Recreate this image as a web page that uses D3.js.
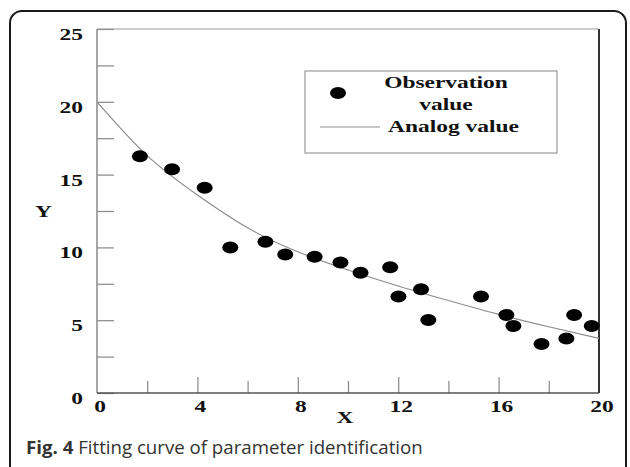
<!DOCTYPE html>
<html lang="en">
<head>
    <meta charset="utf-8">
    <title>Fitting curve</title>
    <script src="https://d3js.org/d3.v7.min.js"></script>
    <style>
        body { margin: 0; background: #fff; }
        svg { display: block; }
    </style>
</head>
<body>
    <div id="chart"></div>
    <script>
        // observed points
        const obsX = [1.71, 2.99, 4.29, 5.31, 6.71, 7.50, 8.67, 9.70, 10.50, 11.68,
                      12.01, 12.91, 13.20, 15.30, 16.31, 16.59, 17.71, 18.70, 19.01, 19.71];
        const obsY = [16.26, 15.36, 14.10, 10.00, 10.39, 9.52, 9.36, 8.97, 8.26, 8.63,
                      6.62, 7.12, 5.01, 6.62, 5.36, 4.60, 3.37, 3.75, 5.36, 4.60];

        // analog (fitted) curve
        const curveX = [0, 2, 4, 6, 8, 10, 12, 14, 16, 18, 20];
        const curveY = [20, 16.3, 13.6, 11.35, 9.7, 8.45, 7.35, 6.35, 5.4, 4.55, 3.75];

        const xTicks = [0, 4, 8, 12, 16, 20];
        const xMinor = [2, 6, 10, 14, 18];
        const yTicks = [0, 5, 10, 15, 20, 25];
        const yMinor = [2.5, 7.5, 12.5, 17.5, 22.5];

        const width = 630, height = 467;
        const plotL = 97, plotR = 599, plotT = 29, plotB = 393;
        const stretch = 1.38;   // the original picture is stretched sideways
        const serif = '"Liberation Serif", "Times New Roman", serif';

        const svg = d3.select('#chart').append('svg')
            .attr('width', width)
            .attr('height', height);

        // outer rounded frame (bottom runs off the picture)
        svg.append('rect')
            .attr('x', 10).attr('y', 11)
            .attr('width', 616).attr('height', 470)
            .attr('rx', 12)
            .attr('fill', 'none')
            .attr('stroke', '#1a1a1a')
            .attr('stroke-width', 2);

        const x = d3.scaleLinear().domain([0, 20]).range([plotL, plotR]);
        const y = d3.scaleLinear().domain([0, 25]).range([plotB, plotT]);

        // ticks pointing inward
        svg.append('g')
            .attr('transform', `translate(${plotL},0)`)
            .call(d3.axisLeft(y).tickValues(yTicks.concat(yMinor)).tickSize(-17).tickSizeOuter(0).tickFormat(''));
        svg.append('g')
            .attr('transform', `translate(0,${plotB})`)
            .call(d3.axisBottom(x).tickValues(xTicks.slice(1, -1)).tickSize(-16).tickSizeOuter(0).tickFormat(''));
        svg.append('g')
            .attr('transform', `translate(0,${plotB})`)
            .call(d3.axisBottom(x).tickValues(xMinor).tickSize(-12).tickSizeOuter(0).tickFormat(''));
        svg.selectAll('.domain').remove();
        svg.selectAll('.tick line').attr('stroke', '#888').attr('stroke-width', 1.2);

        // plot box
        svg.append('line').attr('x1', plotL).attr('x2', plotR).attr('y1', plotT).attr('y2', plotT)
            .attr('stroke', '#999').attr('stroke-width', 1.2);
        svg.append('line').attr('x1', plotL).attr('x2', plotL).attr('y1', plotT).attr('y2', plotB)
            .attr('stroke', '#8a8a8a').attr('stroke-width', 1.5);
        svg.append('line').attr('x1', plotR).attr('x2', plotR).attr('y1', plotT).attr('y2', plotB)
            .attr('stroke', '#333').attr('stroke-width', 2);
        svg.append('line').attr('x1', plotL).attr('x2', plotR).attr('y1', plotB).attr('y2', plotB)
            .attr('stroke', '#555').attr('stroke-width', 1.6);

        function label(g, tx, ty, txt, anchor, size) {
            return g.append('text')
                .attr('transform', `translate(${tx},${ty}) scale(${stretch},1)`)
                .attr('text-anchor', anchor)
                .attr('font-family', serif)
                .attr('font-weight', 'bold')
                .attr('font-size', size || 17)
                .attr('fill', '#111')
                .text(txt);
        }

        const labels = svg.append('g');
        yTicks.forEach(v => label(labels, 83, y(v) + 11, v, 'end'));
        xTicks.forEach(v => label(labels, x(v) + 3, 412, v, 'middle'));
        label(labels, 43.5, 217, 'Y', 'middle');
        label(labels, 345, 423, 'X', 'middle');

        // analog curve
        const curvePts = curveX.map((d, i) => [d, curveY[i]]);
        svg.append('path')
            .datum(curvePts)
            .attr('fill', 'none')
            .attr('stroke', '#8c8c8c')
            .attr('stroke-width', 1.2)
            .attr('d', d3.line()
                .x(d => x(d[0]))
                .y(d => y(d[1]))
                .curve(d3.curveNatural));

        // observation dots
        svg.append('g').selectAll('ellipse')
            .data(obsX.map((d, i) => [d, obsY[i]]))
            .join('ellipse')
            .attr('cx', d => x(d[0]))
            .attr('cy', d => y(d[1]))
            .attr('rx', 8)
            .attr('ry', 6)
            .attr('fill', '#000');

        // legend
        const lg = svg.append('g');
        lg.append('rect')
            .attr('x', 305).attr('y', 71)
            .attr('width', 252).attr('height', 82)
            .attr('fill', '#fff')
            .attr('stroke', '#999')
            .attr('stroke-width', 1.2);
        lg.append('ellipse')
            .attr('cx', 338).attr('cy', 93)
            .attr('rx', 8).attr('ry', 6)
            .attr('fill', '#000');
        lg.append('line')
            .attr('x1', 320).attr('x2', 380)
            .attr('y1', 127).attr('y2', 127)
            .attr('stroke', '#8c8c8c')
            .attr('stroke-width', 1.2);
        label(lg, 446, 88, 'Observation', 'middle');
        label(lg, 446, 110, 'value', 'middle');
        label(lg, 388, 132, 'Analog value', 'start');

        // caption
        const cap = svg.append('text')
            .attr('x', 26).attr('y', 454)
            .attr('font-family', '"Open Sans", "Noto Sans", sans-serif')
            .attr('font-size', 17.5)
            .attr('fill', '#333');
        cap.append('tspan').attr('font-weight', 'bold').text('Fig. 4');
        cap.append('tspan').text(' Fitting curve of parameter identification');
        const w = cap.node().getComputedTextLength();
        const sx = 397 / w;
        cap.attr('x', null).attr('y', null)
            .attr('transform', `translate(26,454) scale(${sx},1)`);
    </script>
</body>
</html>
